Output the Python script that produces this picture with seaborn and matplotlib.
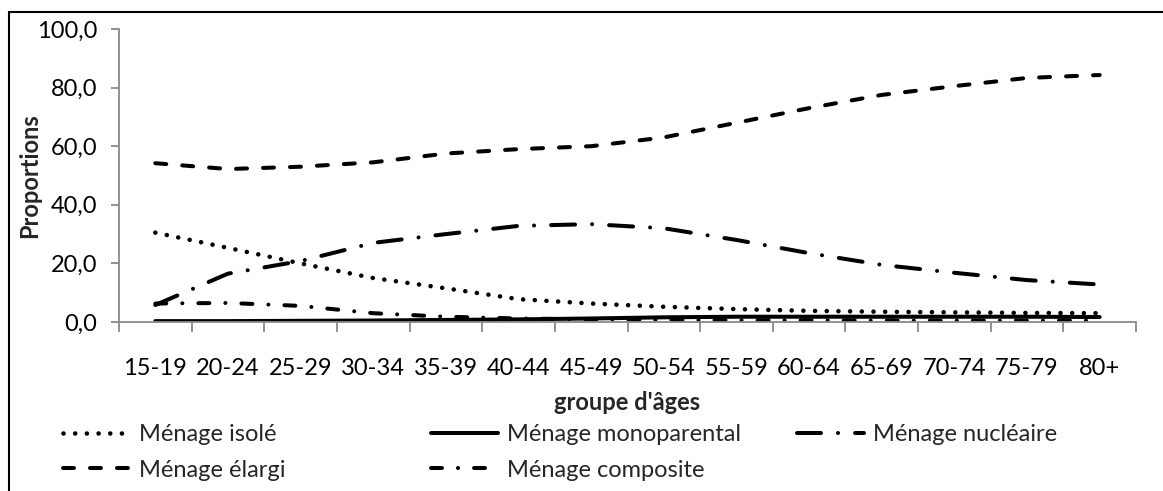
import numpy as np
import pandas as pd
import matplotlib
matplotlib.use("Agg")
import matplotlib.pyplot as plt
from matplotlib.patches import Rectangle
import seaborn as sns

# ---- data ----
ages = ["15-19", "20-24", "25-29", "30-34", "35-39", "40-44", "45-49",
        "50-54", "55-59", "60-64", "65-69", "70-74", "75-79", "80+"]
isole = [30.5, 25.3, 20.0, 15.0, 11.5, 7.8, 6.3, 5.2, 4.4, 3.8, 3.5, 3.3, 3.1, 3.0]
monoparental = [0.3, 0.3, 0.4, 0.5, 0.7, 0.9, 1.2, 1.6, 1.8, 1.8, 1.8, 1.8, 1.8, 1.7]
nucleaire = [5.8, 16.5, 20.8, 27.0, 30.0, 32.8, 33.4, 32.0, 28.0, 23.5, 19.5, 16.8, 14.3, 12.8]
elargi = [54.2, 52.2, 53.0, 54.5, 57.5, 59.0, 60.0, 63.0, 68.0, 73.0, 77.5, 80.5, 83.3, 84.3]
composite = [6.3, 6.5, 5.5, 3.0, 1.8, 1.2, 0.9, 0.7, 0.6, 0.6, 0.5, 0.5, 0.5, 0.5]

series_names = ["Ménage isolé", "Ménage monoparental", "Ménage nucléaire",
                "Ménage élargi", "Ménage composite"]
series_vals = [isole, monoparental, nucleaire, elargi, composite]
yticks = [0, 20, 40, 60, 80, 100]
ytick_labels = ["0,0", "20,0", "40,0", "60,0", "80,0", "100,0"]

rows = []
for name, vals in zip(series_names, series_vals):
    for i, v in enumerate(vals):
        rows.append({"pos": i, "age": ages[i], "value": v, "type": name})
df = pd.DataFrame(rows)

# ---- style ----
sns.set_theme(style="ticks")
plt.rcParams["font.family"] = ["Lato", "DejaVu Sans"]
GRAY = "#898989"
FS = 17

W, H = 1163, 491
fig = plt.figure(figsize=(W / 100, H / 100), dpi=100)
ax = fig.add_axes([119 / W, 1 - 322 / H, (1136 - 119) / W, (322 - 29) / H])

LW = 2.9
dash_map = {
    "Ménage isolé": (0.01, 2.89),
    "Ménage monoparental": "",
    "Ménage nucléaire": (5.95, 4.23, 0.01, 4.23),
    "Ménage élargi": (2.72, 3.98),
    "Ménage composite": (2.72, 3.98, 0.01, 3.98),
}
sns.lineplot(data=df, x="pos", y="value", hue="type", style="type",
             hue_order=series_names, style_order=series_names,
             palette=["black"] * 5, dashes=dash_map, linewidth=LW,
             legend=False, ax=ax, sort=False)
line_by_name = {}
for ln, name in zip(ax.lines, series_names):
    ln.set_dash_capstyle("round")
    ln.set_solid_capstyle("round")
    line_by_name[name] = ln
# slightly larger round dots for the dotted series
dot_line = line_by_name["Ménage isolé"]
dot_line.set_linewidth(3.3)
dot_line.set_dashes((0.01, 2.54))

ax.set_xlim(-0.5, len(ages) - 0.5)
ax.set_ylim(0, 100)
ax.set_xticks(range(len(ages)))
ax.set_xticklabels(ages, fontsize=FS)
ax.set_xticks(np.arange(-0.5, len(ages), 1.0), minor=True)
ax.tick_params(axis="x", which="major", length=0, pad=26, labelsize=FS, colors="black")
ax.tick_params(axis="x", which="minor", length=7.5, width=1.3, color=GRAY, direction="out")
ax.set_yticks(yticks)
ax.set_yticklabels(ytick_labels, fontsize=FS)
ax.tick_params(axis="y", length=5.8, width=1.3, color=GRAY, pad=10, labelsize=FS,
               labelcolor="black")

for s in ["top", "right"]:
    ax.spines[s].set_visible(False)
for s in ["left", "bottom"]:
    ax.spines[s].set_color(GRAY)
    ax.spines[s].set_linewidth(1.3)

ax.set_xlabel("groupe d'âges", fontsize=FS, fontweight="bold", va="center", ha="center")
ax.xaxis.set_label_coords(0.5, (322 - 402) / 293)
ax.set_ylabel("Proportions", fontsize=FS, fontweight="bold", va="center", ha="center")
ax.yaxis.set_label_coords((30 - 119) / 1017, 0.5)
ax.set_facecolor("white")
fig.patch.set_facecolor("white")

# ---- legend (three columns, row-wise like the original) ----
columns = [
    (63, ["Ménage isolé", "Ménage élargi"]),
    (431, ["Ménage monoparental", "Ménage composite"]),
    (797, ["Ménage nucléaire"]),
]
for x0, names in columns:
    fig.legend([line_by_name[n] for n in names], names,
               loc="upper left", bbox_to_anchor=(x0 / W, 1 - 424 / H),
               bbox_transform=fig.transFigure, frameon=False, fontsize=FS,
               borderpad=0, borderaxespad=0, handlelength=2.85,
               handletextpad=0.35, labelspacing=0.62)

# ---- outer border ----
fig.patches.append(Rectangle((9 / W, -0.1), 1.2, (1 - 12 / H) + 0.1,
                             transform=fig.transFigure, fill=False,
                             edgecolor="black", linewidth=1.5, clip_on=False))

fig.savefig("out.png", dpi=100)
